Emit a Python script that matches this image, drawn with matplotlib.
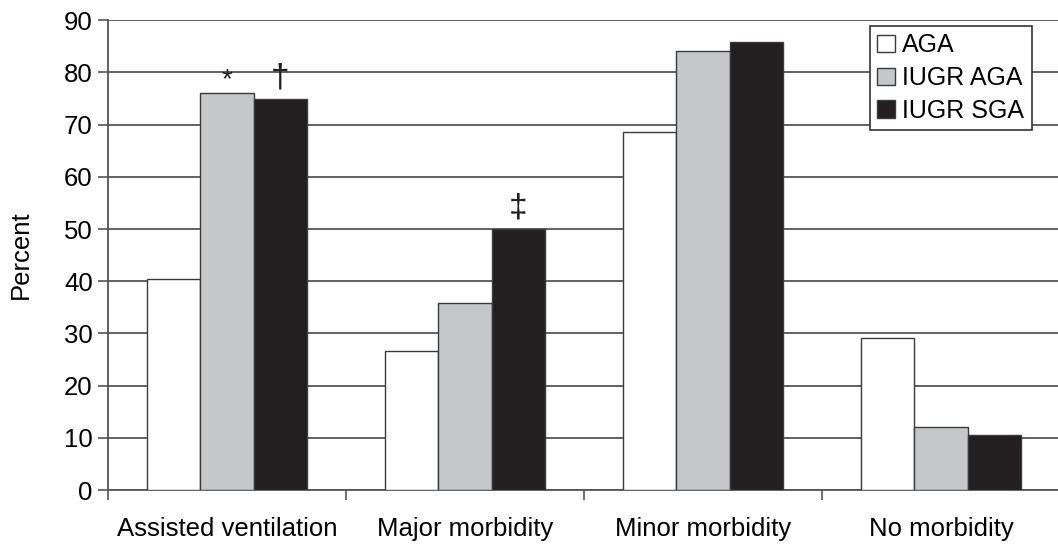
import numpy as np
import matplotlib.pyplot as plt

plt.rcParams['font.family'] = ['Liberation Sans', 'DejaVu Sans']

categories = ['Assisted ventilation', 'Major morbidity', 'Minor morbidity', 'No morbidity']
aga = [40.4, 26.6, 68.5, 29.1]
iugr_aga = [76.0, 35.8, 84.1, 12.1]
iugr_sga = [74.9, 50.0, 85.8, 10.6]

series = [('AGA', aga, '#ffffff'),
          ('IUGR AGA', iugr_aga, '#c6c7c9'),
          ('IUGR SGA', iugr_sga, '#231f20')]

# significance marks: (series index, category index, symbol, size, offset)
marks = [(1, 0, '*', 20, 0), (2, 0, '\u2020', 24, 4), (2, 1, '\u2021', 24, 4)]

fig = plt.figure(figsize=(10.58, 5.47), dpi=100)
ax = fig.add_axes([0.102, 0.104, 0.9, 0.859])

x = np.arange(len(categories))
w = 0.224
for i, (name, vals, col) in enumerate(series):
    ax.bar(x + (i - 1) * w, vals, w, color=col, edgecolor='#3a3a3a',
           linewidth=1.0, label=name, zorder=3)

for si, ci, sym, fs, off in marks:
    v = series[si][1][ci]
    ax.annotate(sym, (x[ci] + (si - 1) * w, v), xytext=(0, off),
                textcoords='offset points', ha='center', va='bottom',
                fontsize=fs, color='#231f20')

ax.set_ylim(0, 90)
ax.set_yticks(np.arange(0, 91, 10))
ax.set_xlim(-0.5, 3.5)
ax.set_xticks(np.arange(-0.5, 3.6, 1.0))
ax.set_xticklabels([])
ax.set_xticks(x, minor=True)
ax.set_xticklabels(categories, minor=True)
ax.tick_params(axis='x', which='minor', length=0, pad=19, labelsize=18.5)
ax.tick_params(axis='x', which='major', length=7, width=1.2, color='#555555', direction='out')
ax.tick_params(axis='y', length=7, width=1.2, color='#555555', labelsize=18.5, pad=4)

ax.yaxis.grid(True, color='#555555', linewidth=1.3, zorder=0)
ax.set_axisbelow(True)
for s in ['top', 'right']:
    ax.spines[s].set_visible(False)
for s in ['left', 'bottom']:
    ax.spines[s].set_color('#555555')
    ax.spines[s].set_linewidth(1.3)

ax.set_ylabel('Percent', fontsize=18.5, labelpad=22)

leg = ax.legend(loc='upper right', bbox_to_anchor=(0.970, 0.988), fontsize=18,
                frameon=True, fancybox=False, edgecolor='#333333',
                handlelength=0.7, handleheight=0.7, handletextpad=0.3,
                borderpad=0.3, labelspacing=0.35, borderaxespad=0)
leg.get_frame().set_linewidth(1.2)
leg.get_frame().set_alpha(1)

fig.savefig('out.png', dpi=100)
